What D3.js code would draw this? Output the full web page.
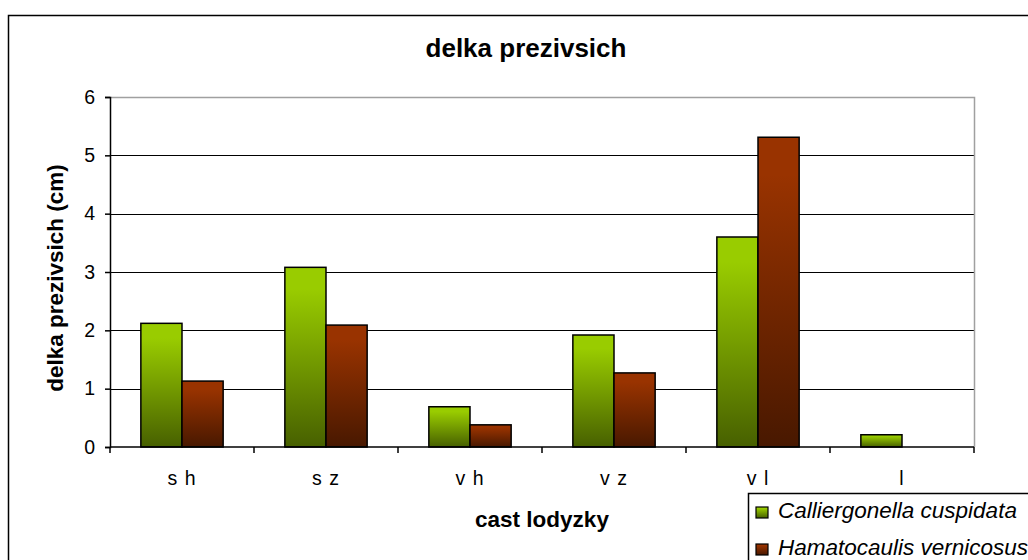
<!DOCTYPE html>
<html>
<head>
<meta charset="utf-8">
<script src="https://cdn.jsdelivr.net/npm/d3@7"></script>
<style>
    body { margin: 0; background: #fff; }
    svg { display: block; font-family: "Liberation Sans", Arial, sans-serif; }
</style>
</head>
<body>
<div id="chart"></div>
<script>
// delka prezivsich - grouped bar chart

const categories = ['s h', 's z', 'v h', 'v z', 'v l', 'l'];
const seriesNames = ['Calliergonella cuspidata', 'Hamatocaulis vernicosus'];
const callierValues = [2.12, 3.08, 0.69, 1.92, 3.60, 0.21];
const hamatoValues = [1.13, 2.09, 0.38, 1.27, 5.31, 0];
const yTicks = [0, 1, 2, 3, 4, 5, 6];

const width = 1028;
const height = 560;
const plot = { left: 110, right: 974, top: 97, bottom: 447 };

// gradient colours per series (light top, dark bottom)
const seriesColors = [
    { id: 'grad-green', light: '#99cc00', dark: '#476000' },
    { id: 'grad-brown', light: '#993300', dark: '#481800' }
];

function draw() {
    const svg = d3.select('#chart')
        .append('svg')
        .attr('width', width)
        .attr('height', height);

    // Gradients
    const defs = svg.append('defs');
    seriesColors.forEach(c => {
        const grad = defs.append('linearGradient')
            .attr('id', c.id)
            .attr('x1', 0).attr('y1', 0)
            .attr('x2', 0).attr('y2', 1);
        grad.append('stop').attr('offset', '0%').attr('stop-color', c.light);
        grad.append('stop').attr('offset', '12%').attr('stop-color', c.light);
        grad.append('stop').attr('offset', '100%').attr('stop-color', c.dark);
    });

    // Outer chart border (runs off the right/bottom edge)
    svg.append('rect')
        .attr('x', 8.5).attr('y', 15.5)
        .attr('width', 1200).attr('height', 800)
        .attr('fill', 'none')
        .attr('stroke', '#000')
        .attr('stroke-width', 1.5);

    // Scales
    const x = d3.scaleBand()
        .domain(categories)
        .range([plot.left, plot.right])
        .padding(0);

    const y = d3.scaleLinear()
        .domain([0, 6])
        .range([plot.bottom, plot.top]);

    // Gridlines
    svg.append('g')
        .selectAll('line')
        .data(yTicks.filter(t => t > 0 && t < 6))
        .enter()
        .append('line')
        .attr('x1', plot.left).attr('x2', plot.right)
        .attr('y1', d => Math.round(y(d)) + 0.5)
        .attr('y2', d => Math.round(y(d)) + 0.5)
        .attr('stroke', '#000')
        .attr('stroke-width', 1);

    // Plot area top/right border (grey)
    svg.append('path')
        .attr('d', `M${plot.left},${plot.top + 0.5}H${plot.right + 0.5}V${plot.bottom}`)
        .attr('fill', 'none')
        .attr('stroke', '#a0a0a0')
        .attr('stroke-width', 1.5);

    // Bars
    const barW = x.bandwidth() / 3.5;
    const groupOffset = (x.bandwidth() - 2 * barW) / 2;
    const allSeries = [callierValues, hamatoValues];

    allSeries.forEach((vals, si) => {
        svg.append('g')
            .selectAll('rect')
            .data(vals.map((v, i) => ({ cat: categories[i], value: v })).filter(d => d.value > 0))
            .enter()
            .append('rect')
            .attr('x', d => x(d.cat) + groupOffset + si * barW)
            .attr('y', d => y(d.value))
            .attr('width', barW)
            .attr('height', d => y(0) - y(d.value))
            .attr('fill', `url(#${seriesColors[si].id})`)
            .attr('stroke', '#000')
            .attr('stroke-width', 1.5);
    });

    // Y axis
    const yAxis = svg.append('g')
        .attr('transform', `translate(${plot.left},0)`)
        .call(d3.axisLeft(y).tickValues(yTicks).tickSize(5).tickPadding(10).tickFormat(d3.format('d')));
    yAxis.select('.domain').attr('stroke', '#000').attr('stroke-width', 1.5);
    yAxis.selectAll('.tick line').attr('stroke', '#000').attr('stroke-width', 1.5);
    yAxis.selectAll('.tick text')
        .attr('font-size', 19.5)
        .attr('fill', '#000')
        .attr('font-family', '"Liberation Sans", Arial, sans-serif');

    // X axis (ticks between categories)
    const xAxis = svg.append('g')
        .attr('transform', `translate(0,${plot.bottom})`);
    xAxis.append('line')
        .attr('x1', plot.left).attr('x2', plot.right)
        .attr('stroke', '#000')
        .attr('stroke-width', 1.5);
    const boundaries = categories.map(c => x(c)).concat([plot.right]);
    xAxis.selectAll('line.tick')
        .data(boundaries)
        .enter()
        .append('line')
        .attr('class', 'tick')
        .attr('x1', d => d).attr('x2', d => d)
        .attr('y1', 0).attr('y2', 6)
        .attr('stroke', '#000')
        .attr('stroke-width', 1.5);
    xAxis.selectAll('text')
        .data(categories)
        .enter()
        .append('text')
        .attr('x', d => x(d) + x.bandwidth() / 2)
        .attr('y', 38)
        .attr('text-anchor', 'middle')
        .attr('font-size', 19.5)
        .attr('letter-spacing', 1)
        .text(d => d);

    // Title
    svg.append('text')
        .attr('x', 526).attr('y', 57)
        .attr('text-anchor', 'middle')
        .attr('font-size', 26)
        .attr('font-weight', 'bold')
        .text('delka prezivsich');

    // X axis title
    svg.append('text')
        .attr('x', (plot.left + plot.right) / 2).attr('y', 527)
        .attr('text-anchor', 'middle')
        .attr('font-size', 22.5)
        .attr('font-weight', 'bold')
        .text('cast lodyzky');

    // Y axis title
    svg.append('text')
        .attr('transform', `translate(63,278) rotate(-90)`)
        .attr('text-anchor', 'middle')
        .attr('font-size', 22.5)
        .attr('font-weight', 'bold')
        .text('delka prezivsich (cm)');

    // Legend
    const legend = svg.append('g');
    legend.append('rect')
        .attr('x', 748.5).attr('y', 493.5)
        .attr('width', 400).attr('height', 120)
        .attr('fill', '#fff')
        .attr('stroke', '#000')
        .attr('stroke-width', 1.5);
    seriesNames.forEach((name, i) => {
        const ly = 518 + i * 37;
        legend.append('rect')
            .attr('x', 756).attr('y', ly - 11)
            .attr('width', 12).attr('height', 11)
            .attr('fill', `url(#${seriesColors[i].id})`)
            .attr('stroke', '#000')
            .attr('stroke-width', 1.2);
        legend.append('text')
            .attr('x', 778).attr('y', ly)
            .attr('font-size', 22.5)
            .attr('font-style', 'italic')
            .text(name);
    });
}

draw();
</script>
</body>
</html>
